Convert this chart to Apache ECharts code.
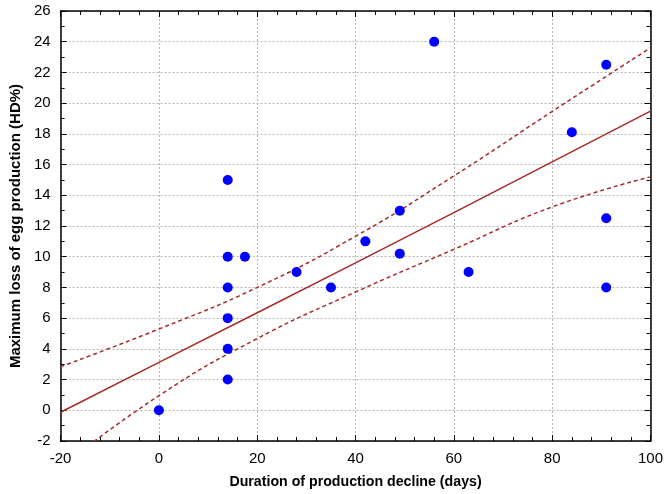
<!DOCTYPE html>
<html>
<head>
<meta charset="utf-8">
<script src="https://cdn.jsdelivr.net/npm/echarts@6/dist/echarts.min.js"></script>
<style>
html,body{margin:0;padding:0;background:#fff;}
#chart{width:666px;height:494px;}
</style>
</head>
<body>
<div id="chart"></div>
<script>
// Observed points
const durationDays = [0, 14, 14, 14, 14, 14, 14, 17.5, 28, 35, 42, 49, 49, 56, 63, 84, 91, 91, 91];
const maxLoss      = [0, 2, 4, 6, 8, 10, 15, 10, 9, 8, 11, 13, 10.2, 24, 9, 18.1, 22.5, 12.5, 8];

// Regression line and 95% confidence band
const fitX     = [-20, 0, 20, 40, 60, 80, 100];
const fitY     = [-0.13, 3.12, 6.35, 9.6, 12.87, 16.18, 19.48];
const upperY   = [2.84, 5.29, 8.0, 11.33, 15.26, 19.46, 23.6];
const lowerY   = [-3.7, 0.95, 4.67, 7.7, 10.48, 13.24, 15.2];

const xTitle = 'Duration of production decline (days)';
const yTitle = 'Maximum loss of egg production (HD%)';

const pts = durationDays.map((x, i) => [x, maxLoss[i]]);
const pair = (ys) => fitX.map((x, i) => [x, ys[i]]);

const lineRed = '#a52a2a';
const font = 'Liberation Sans, Arial, sans-serif';

const baseX = {
  type: 'value', min: -20, max: 100, interval: 20,
  axisLine: {show: true, onZero: false, lineStyle: {color: '#000', width: 1.5}},
  axisTick: {show: true, inside: true, length: 6, lineStyle: {color: '#000'}},
  minorTick: {show: true, splitNumber: 5, length: 4, lineStyle: {color: '#000'}},
};
const baseY = {
  type: 'value', min: -2, max: 26, interval: 2,
  axisLine: {show: true, onZero: false, lineStyle: {color: '#000', width: 1.5}},
  axisTick: {show: true, inside: true, length: 6, lineStyle: {color: '#000'}},
  minorTick: {show: true, splitNumber: 2, length: 4, lineStyle: {color: '#000'}},
};
const splitLine = {show: true, lineStyle: {color: '#b5b5b5', type: [2, 2], width: 1}};
const labelStyle = {color: '#000', fontSize: 15, fontFamily: font};

const chart = echarts.init(document.getElementById('chart'));
chart.setOption({
  animation: false,
  backgroundColor: '#fff',
  grid: {left: 59, right: 13, top: 11, bottom: 53, containLabel: false},
  xAxis: [
    Object.assign({}, baseX, {
      position: 'bottom',
      axisLabel: Object.assign({margin: 10}, labelStyle),
      splitLine: splitLine,
      name: xTitle, nameLocation: 'middle', nameGap: 34,
      nameTextStyle: {color: '#000', fontSize: 14.2, fontWeight: 'bold', fontFamily: font}
    }),
    Object.assign({}, baseX, {
      position: 'top',
      axisLabel: {show: false},
      splitLine: {show: false}
    })
  ],
  yAxis: [
    Object.assign({}, baseY, {
      position: 'left',
      axisLabel: Object.assign({margin: 10}, labelStyle),
      splitLine: splitLine,
      name: yTitle, nameLocation: 'middle', nameGap: 33, nameRotate: 90,
      nameTextStyle: {color: '#000', fontSize: 15, fontWeight: 'bold', fontFamily: font}
    }),
    Object.assign({}, baseY, {
      position: 'right',
      axisLabel: {show: false},
      splitLine: {show: false}
    })
  ],
  series: [
    {
      type: 'line', data: pair(fitY), symbol: 'none', smooth: false, clip: true,
      lineStyle: {color: lineRed, width: 1.5}, z: 3
    },
    {
      type: 'line', data: pair(upperY), symbol: 'none', smooth: true, clip: true,
      lineStyle: {color: lineRed, width: 1.5, type: [4, 3]}, z: 3
    },
    {
      type: 'line', data: pair(lowerY), symbol: 'none', smooth: true, clip: true,
      lineStyle: {color: lineRed, width: 1.5, type: [4, 3]}, z: 3
    },
    {
      type: 'scatter', data: pts, symbol: 'circle', symbolSize: 10,
      itemStyle: {color: '#0000ff', opacity: 1}, z: 4
    }
  ]
});
</script>
</body>
</html>
